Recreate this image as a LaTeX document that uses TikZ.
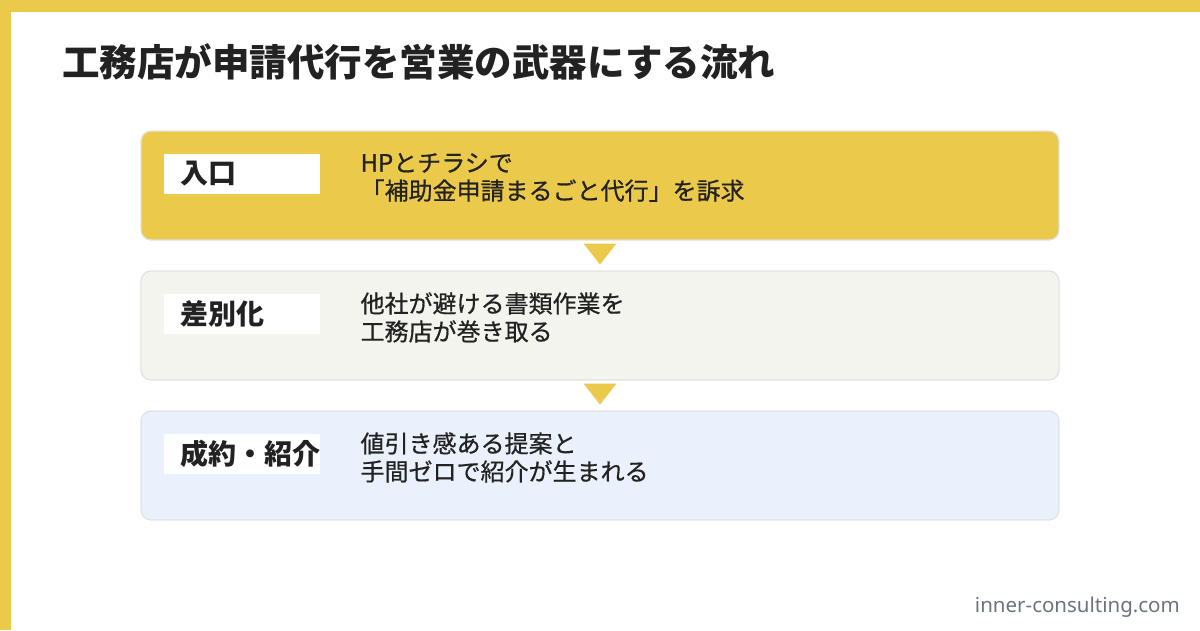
\documentclass[tikz,border=0pt]{standalone}
\usepackage{fontspec}
\setmainfont{Noto Sans CJK JP}
\newfontfamily\jpmed{Noto Sans CJK JP}[FakeBold=0.6]
\newfontfamily\urlfont{Noto Sans}
\usetikzlibrary{positioning,calc}
\definecolor{accent}{HTML}{EBC94B}
\definecolor{paleA}{HTML}{F3F4EE}
\definecolor{paleB}{HTML}{EAF1FC}
\definecolor{edge}{HTML}{E2E3E1}
\definecolor{ink}{HTML}{222222}
\definecolor{urlgray}{HTML}{6B7280}

\begin{document}
\begin{tikzpicture}[x=1pt,y=-1pt,
  stage/.style={draw=edge, line width=1.2pt, rounded corners=10pt, minimum width=918pt, minimum height=109pt, inner sep=0pt},
  tag/.style={fill=white, inner xsep=17pt, inner ysep=0pt, text width=122pt, minimum height=40pt, align=left, font=\fontsize{28}{32}\selectfont\bfseries, text=ink},
  body/.style={inner sep=0pt, align=left, font=\jpmed\fontsize{24}{28}\selectfont, text=ink},
  marker/.style={fill=accent}]
\useasboundingbox (0,0) rectangle (1200,630);
% frame
\fill[accent] (0,0) rectangle (1200,12);
\fill[accent] (0,0) rectangle (11,630);
\node[anchor=west, inner sep=0pt, font=\fontsize{37.5}{40}\selectfont\bfseries, text=ink] (title) at (62,62) {工務店が申請代行を営業の武器にする流れ};
% stages
\foreach \n/\c/\y/\t/\b in {1/accent/185.5/入口/{HPとチラシで\\「補助金申請まるごと代行」を訴求},
                            2/paleA/325.5/差別化/{他社が避ける書類作業を\\工務店が巻き取る},
                            3/paleB/465.5/成約・紹介/{値引き感ある提案と\\手間ゼロで紹介が生まれる}}{
  \node[stage, fill=\c] (s\n) at (600,\y) {};
  \node[tag, anchor=north west] (t\n) at ($(s\n.north west)+(23,23)$) {\t};
  \node[body, anchor=west] (d\n) at ($(s\n.north west)+(220,47)$) {\b};
}
% markers
\foreach \i/\j in {1/2,2/3}{
  \coordinate (m\i) at ($(s\i.south)!0.5!(s\j.north)$);
  \fill[marker] ($(m\i)+(-16.5,-12)$) -- ($(m\i)+(16.5,-12)$) -- ($(m\i)+(0,9)$) -- cycle;
}
\node[anchor=east, inner sep=0pt, font=\urlfont\fontsize{20.5}{23}\selectfont, text=urlgray] (site) at (1180,607) {inner-consulting.com};
\end{tikzpicture}
\end{document}
